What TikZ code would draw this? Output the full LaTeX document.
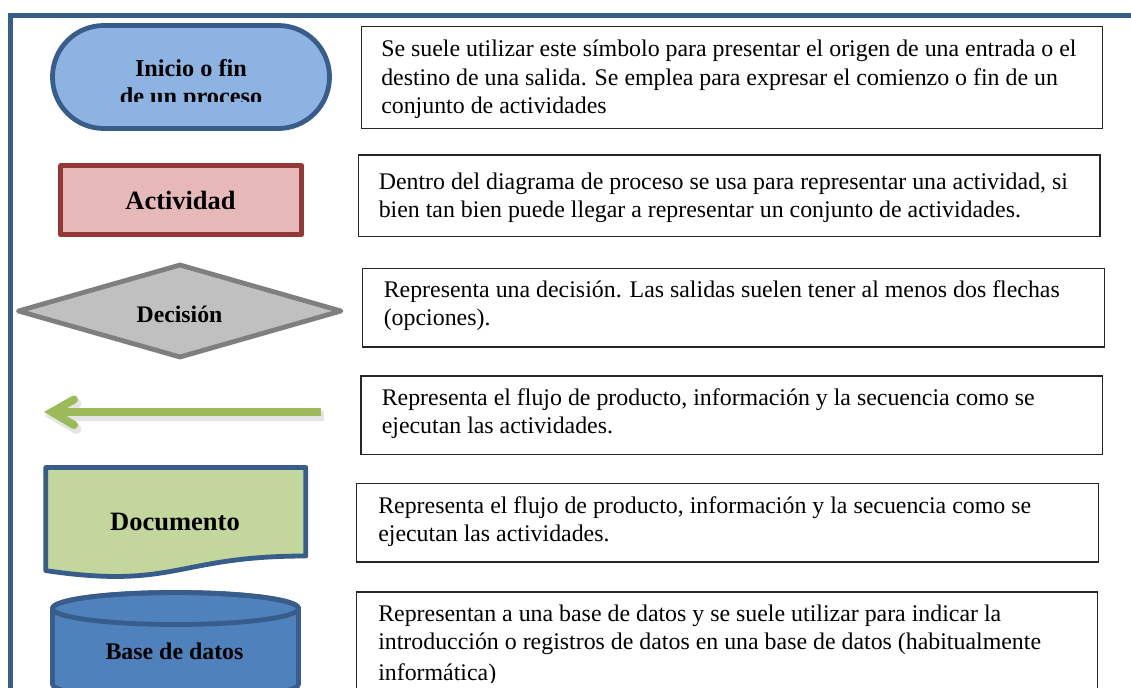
\documentclass[tikz,border=0pt]{standalone}
\usepackage{fontspec}
\setmainfont{Liberation Serif}
\definecolor{frameblue}{HTML}{385D8A}
\definecolor{termfill}{HTML}{8DB3E2}
\definecolor{actfill}{HTML}{E6B9B8}
\definecolor{actline}{HTML}{953735}
\definecolor{decfill}{HTML}{C0C0C0}
\definecolor{decline}{HTML}{7F7F7F}
\definecolor{arrowgreen}{HTML}{9BBB59}
\definecolor{docfill}{HTML}{C3D69B}
\definecolor{dbfill}{HTML}{4F81BD}
\begin{document}
\begin{tikzpicture}[x=0.75pt,y=-0.75pt,
  frameline/.style={draw=frameblue,line width=3.6pt},
  symline/.style={line width=3.6pt,line join=round},
  boxline/.style={draw=black!85,line width=0.95pt},
  bodytxt/.style={anchor=base west,inner sep=0pt,font=\fontsize{17.9pt}{21pt}\selectfont},
  symtxt/.style={anchor=base,inner sep=0pt}]
\useasboundingbox (0,0) rectangle (1131,688);
\clip (0,0) rectangle (1131,688);
\fill[white] (0,0) rectangle (1131,688);
% outer frame
\draw[frameline] (10.5,720) -- (10.5,15.8) -- (1160,15.8);

% ---- Terminal
\draw[symline,draw=frameblue,fill=termfill,rounded corners=38.5pt] (52.5,25.5) rectangle (329.5,128.5);
\node[symtxt,font=\fontsize{18.2pt}{21pt}\selectfont\bfseries] (term1) at (191,77) {Inicio o fin};
\begin{scope}
\clip (50,80) rectangle (332,101.7);
\node[symtxt,font=\fontsize{18.2pt}{21pt}\selectfont\bfseries] (term2) at (191,104.5) {de un proceso};
\end{scope}

% ---- Activity
\draw[symline,draw=actline,fill=actfill] (60.8,165.8) rectangle (301.5,234.8);
\node[symtxt,font=\fontsize{19.8pt}{23pt}\selectfont\bfseries] (act) at (180.5,209.5) {Actividad};

% ---- Decision
\draw[symline,draw=decline,fill=decfill] (18.5,311) -- (180,265) -- (341,311) -- (180,357) -- cycle;
\node[symtxt,font=\fontsize{17.8pt}{21pt}\selectfont\bfseries] (dec) at (179.5,322.7) {Decisión};

% ---- Flow arrow
\coordinate (arS) at (321,412);
\coordinate (arB) at (56,412);
\coordinate (arT) at (52,412);
\coordinate (arU) at (74,399.5);
\coordinate (arD) at (74,425);
\begin{scope}[shift={(2.5,4)}]
\draw[black,opacity=0.10,line width=7.5pt] (321,412) -- (56,412);
\draw[black,opacity=0.10,line width=7.5pt,line cap=round,line join=miter] (74,399.5) -- (52,412) -- (74,425);
\end{scope}
\draw[arrowgreen,line width=5.6pt] (arS) -- (arB);
\draw[arrowgreen,line width=6pt,line cap=round,line join=miter] (arU) -- (arT) -- (arD);

% ---- Document
\draw[symline,draw=frameblue,fill=docfill] (45.8,467.5) -- (305.8,467.5) -- (305.8,556)
   .. controls (175.8,556) and (175.8,589.7) .. (45.8,570.6) -- cycle;
\node[symtxt,font=\fontsize{19.9pt}{23pt}\selectfont\bfseries] (doc) at (175,530) {Documento};

% ---- Database
\draw[symline,draw=frameblue,fill=dbfill] (52.5,608.5) -- (52.5,684)
   arc[start angle=180,end angle=360,x radius=92.25pt,y radius=12pt] -- (298.5,608.5)
   arc[start angle=0,end angle=180,x radius=92.25pt,y radius=12pt] -- cycle;
\draw[symline,draw=frameblue] (175.5,608.5) ellipse [x radius=92.25pt,y radius=12pt];
\node[symtxt,font=\fontsize{17.9pt}{21pt}\selectfont\bfseries] (db) at (174.5,659) {Base de datos};

% ---- Text boxes
\draw[boxline] (361.5,26.7) rectangle (1102.5,128.3);
\node[bodytxt] (t1a) at (381,56.7) {Se suele utilizar este símbolo para presentar el origen de una entrada o el};
\node[bodytxt] (t1b) at (381,85.2) {destino de una salida. Se emplea para expresar el comienzo o fin de un};
\node[bodytxt] (t1c) at (381,113.5) {conjunto de actividades};

\draw[boxline] (358.5,155) rectangle (1100,236.5);
\node[bodytxt] (t2a) at (378.5,189.5) {Dentro del diagrama de proceso se usa para representar una actividad, si};
\node[bodytxt] (t2b) at (378.5,217.8) {bien tan bien puede llegar a representar un conjunto de actividades.};

\draw[boxline] (362.5,268.3) rectangle (1104.3,347);
\node[bodytxt] (t3a) at (383.5,297.3) {Representa una decisión. Las salidas suelen tener al menos dos flechas};
\node[bodytxt] (t3b) at (383.5,325.5) {(opciones).};

\draw[boxline] (361,376) rectangle (1102.3,454.2);
\node[bodytxt] (t4a) at (381.5,405) {Representa el flujo de producto, información y la secuencia como se};
\node[bodytxt] (t4b) at (381.5,433.2) {ejecutan las actividades.};

\draw[boxline] (356.7,483.3) rectangle (1098.3,562);
\node[bodytxt] (t5a) at (378,513.2) {Representa el flujo de producto, información y la secuencia como se};
\node[bodytxt] (t5b) at (378,541.4) {ejecutan las actividades.};

\draw[boxline] (356.7,592) rectangle (1097.5,720);
\node[bodytxt] (t6a) at (378,621.7) {Representan a una base de datos y se suele utilizar para indicar la};
\node[bodytxt] (t6b) at (378,649.9) {introducción o registros de datos en una base de datos (habitualmente};
\begin{scope}
\clip (360,655) rectangle (1095,682.5);
\node[bodytxt] (t6c) at (378,680.5) {informática)};
\end{scope}
\end{tikzpicture}
\end{document}
